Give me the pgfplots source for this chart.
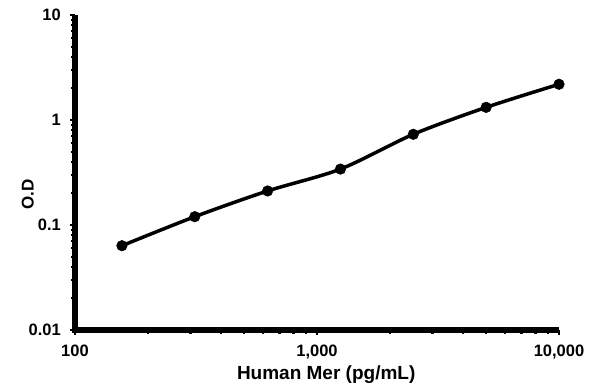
\documentclass[border=0pt]{standalone}
\usepackage{pgfplots}
\pgfplotsset{compat=1.18}
\usepackage{fontspec}
\setmainfont{Liberation Sans}
\begin{document}
\begin{tikzpicture}
\path[use as bounding box] (-75bp,-62bp) rectangle (520bp,330bp);
\begin{axis}[name=ax, at={(0,0)}, anchor=south west, scale only axis,
  width=484bp, height=315bp,
  xmode=log, ymode=log, xmin=100, xmax=10000, ymin=0.01, ymax=10,
  axis x line*=bottom, axis y line*=left,
  axis line style={draw=none},
  tick align=outside, major tick length=5bp, minor tick length=4bp,
  tick style={line width=2.2bp, black},
  xtick={100,1000,10000}, xticklabels={100,{1,000},{10,000}},
  ytick={0.01,0.1,1,10}, yticklabels={0.01,0.1,1,10},
  ticklabel style={font=\fontsize{16.5bp}{18bp}\selectfont\bfseries},
  xticklabel style={anchor=north, inner sep=0pt, yshift=-10bp},
  yticklabel style={anchor=east, inner sep=0pt, xshift=-9bp},
  xlabel={Human Mer (pg/mL)}, ylabel={O.D},
  label style={font=\fontsize{19bp}{20bp}\selectfont\bfseries, inner sep=0pt},
  xlabel style={at={(axis description cs:0.519,0)}, anchor=base, yshift=-49bp},
  ylabel style={at={(axis description cs:0,0.43)}, anchor=south, yshift=41bp, font=\fontsize{17bp}{18bp}\selectfont\bfseries},
  clip=false,
]
\addplot[line width=3.5bp, black, smooth, tension=0.5, mark=*, mark size=5.3bp, mark options={solid, fill=black, line width=0.5bp}] coordinates {
(156.25,0.0635) (312.5,0.120) (625,0.211) (1250,0.341) (2500,0.731) (5000,1.32) (10000,2.19)
};
\end{axis}
\draw[line width=6bp, black, line join=miter] (ax.north west) -- (ax.south west) -- (ax.south east);
\end{tikzpicture}
\end{document}
